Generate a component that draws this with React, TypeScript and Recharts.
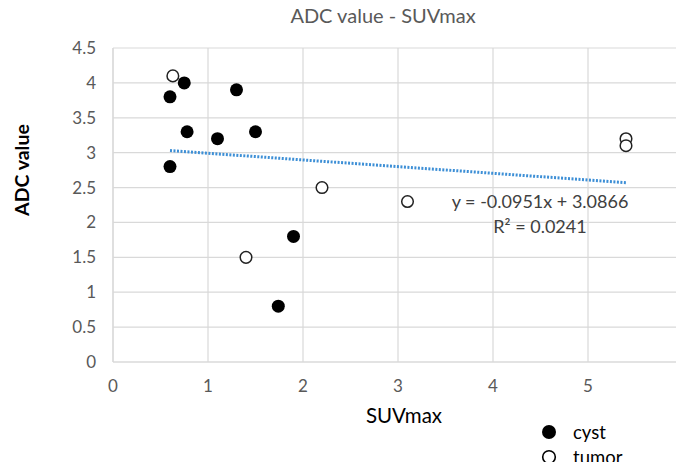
import React from "react";
import { ScatterChart, Scatter, XAxis, YAxis, CartesianGrid } from "recharts";

const cystX = [0.6, 0.75, 0.78, 1.1, 1.3, 1.5, 0.6, 1.9, 1.74];
const cystY = [3.8, 4.0, 3.3, 3.2, 3.9, 3.3, 2.8, 1.8, 0.8];
const tumorX = [0.63, 2.2, 1.4, 3.1, 5.4, 5.4];
const tumorY = [4.1, 2.5, 1.5, 2.3, 3.2, 3.1];
const trendX = [0.6, 5.4];
const trendY = [3.03, 2.57];
const xTicks = [0, 1, 2, 3, 4, 5, 6];
const yTicks = [0, 0.5, 1, 1.5, 2, 2.5, 3, 3.5, 4, 4.5];

const cyst = cystX.map((x, i) => ({ x, y: cystY[i] }));
const tumor = tumorX.map((x, i) => ({ x, y: tumorY[i] }));
const trend = trendX.map((x, i) => ({ x, y: trendY[i] }));

const FONT = "Lato, 'Open Sans', sans-serif";
const GRID = "#d9d9d9";

const FilledDot = (p: any) => <circle cx={p.cx} cy={p.cy} r={6.5} fill="#000" />;
const OpenDot = (p: any) => (
  <circle cx={p.cx} cy={p.cy} r={5.8} fill="#fff" stroke="#222" strokeWidth={1.5} />
);

export default function App() {
  return (
    <div style={{ margin: -8, width: 684, height: 470, overflow: "hidden", position: "relative", background: "#fff" }}>
      <ScatterChart
        width={720}
        height={470}
        margin={{ top: 48, right: 37, left: 53, bottom: 78 }}
        style={{ fontFamily: FONT }}
      >
        <CartesianGrid stroke={GRID} strokeWidth={1.2} />
        <XAxis
          type="number"
          dataKey="x"
          domain={[0, 6]}
          ticks={xTicks}
          height={30}
          axisLine={{ stroke: GRID, strokeWidth: 1.2 }}
          tickLine={false}
          tickSize={0}
          tickMargin={18}
          tick={{ fill: "#595959", fontSize: 17 }}
          interval={0}
        />
        <YAxis
          type="number"
          dataKey="y"
          domain={[0, 4.5]}
          ticks={yTicks}
          width={60}
          axisLine={{ stroke: GRID, strokeWidth: 1.2 }}
          tickLine={false}
          tickSize={0}
          tickMargin={17}
          tick={{ fill: "#595959", fontSize: 17 }}
          interval={0}
        />
        <Scatter
          data={trend}
          line={{ stroke: "#3d8fd6", strokeWidth: 3, strokeDasharray: "2 1.5" }}
          shape={() => <g />}
          isAnimationActive={false}
        />
        <Scatter data={cyst} shape={FilledDot} isAnimationActive={false} />
        <Scatter data={tumor} shape={OpenDot} isAnimationActive={false} />

        <text x={383} y={23} textAnchor="middle" fontSize={20} fill="#595959" fontFamily={FONT}>
          ADC value - SUVmax
        </text>
        <text
          x={29}
          y={170}
          textAnchor="middle"
          fontSize={19.5}
          fontWeight="bold"
          fill="#000"
          fontFamily={FONT}
          transform="rotate(-90 29 170)"
        >
          ADC value
        </text>
        <text x={404} y={423} textAnchor="middle" fontSize={20.5} fill="#000" fontFamily={FONT}>
          SUVmax
        </text>
        <text x={540} y={208} textAnchor="middle" fontSize={18} fill="#404040" fontFamily={FONT}>
          y = -0.0951x + 3.0866
        </text>
        <text x={540} y={233} textAnchor="middle" fontSize={18} fill="#404040" fontFamily={FONT}>
          R² = 0.0241
        </text>

        <circle cx={549} cy={432} r={7} fill="#000" />
        <text x={573} y={438.5} fontSize={18.5} fill="#000" fontFamily={FONT}>
          cyst
        </text>
        <circle cx={549} cy={457} r={6.3} fill="#fff" stroke="#000" strokeWidth={1.6} />
        <text x={573} y={463.5} fontSize={18.5} fill="#000" fontFamily={FONT}>
          tumor
        </text>
      </ScatterChart>
    </div>
  );
}
